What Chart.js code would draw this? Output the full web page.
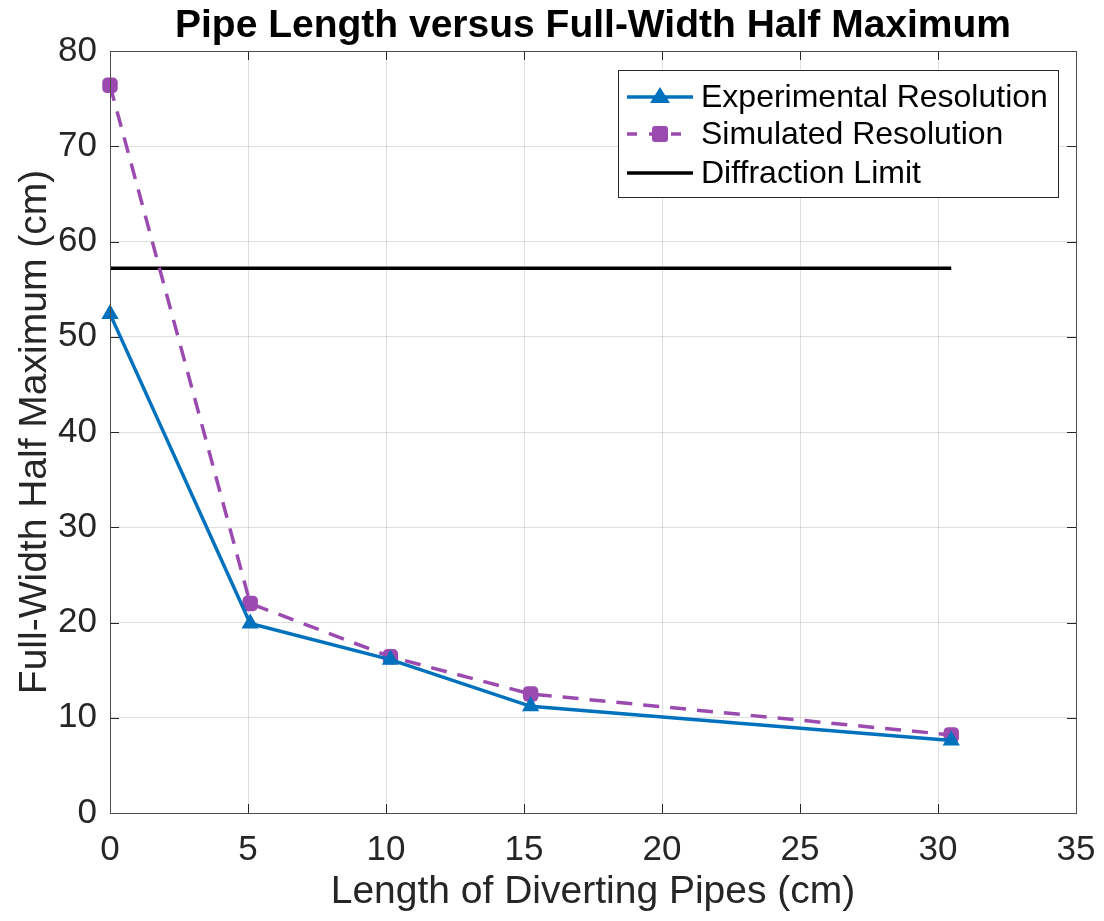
<!DOCTYPE html>
<html><head><meta charset="utf-8">
<script src="https://cdn.jsdelivr.net/npm/chart.js@4/dist/chart.umd.min.js"></script>
<style>html,body{margin:0;padding:0;background:#fff}#wrap{width:1104px;height:921px}</style>
</head><body><div id="wrap"><canvas id="c" width="1104" height="921"></canvas></div>
<script>
const pipeLengths = [0, 5.08, 10.16, 15.24, 30.48];
const experimental = [52.4, 19.9, 16.1, 11.2, 7.6];
const simulated = [76.4, 22.0, 16.4, 12.5, 8.2];
const diffractionLimit = 57.2;
const diffractionX = [0, 30.48];
const xTicks = [0, 5, 10, 15, 20, 25, 30, 35];
const yTicks = [0, 10, 20, 30, 40, 50, 60, 70, 80];
const titleText = 'Pipe Length versus Full-Width Half Maximum';
const xTitle = 'Length of Diverting Pipes (cm)';
const yTitle = 'Full-Width Half Maximum (cm)';
const seriesNames = ['Experimental Resolution', 'Simulated Resolution', 'Diffraction Limit'];

const BLUE = '#0072BD', PURPLE = '#9B4BB0', BLACK = '#000000';
const FONT = '"Liberation Sans", Arial, Helvetica, sans-serif';

const pts = (xs, ys) => xs.map((x, i) => ({x, y: ys[i]}));

const overlay = {
  id: 'overlay',
  afterDraw(chart) {
    const ctx = chart.ctx, a = chart.chartArea;
    const xs = chart.scales.x, ys = chart.scales.y;
    ctx.save();
    ctx.strokeStyle = '#262626'; ctx.lineWidth = 1;
    const tl = 9;
    ctx.beginPath();
    xTicks.forEach(v => { const px = Math.round(xs.getPixelForValue(v)) + 0.5;
      ctx.moveTo(px, a.bottom); ctx.lineTo(px, a.bottom - tl);
      ctx.moveTo(px, a.top); ctx.lineTo(px, a.top + tl); });
    yTicks.forEach(v => { const py = Math.round(ys.getPixelForValue(v)) + 0.5;
      ctx.moveTo(a.left, py); ctx.lineTo(a.left + tl, py);
      ctx.moveTo(a.right, py); ctx.lineTo(a.right - tl, py); });
    ctx.stroke();
    ctx.strokeStyle = '#4d4d4d';
    ctx.strokeRect(Math.round(a.left) + 0.5, Math.round(a.top) + 0.5, Math.round(a.right - a.left), Math.round(a.bottom - a.top));
    // title
    ctx.fillStyle = '#000';
    ctx.font = 'bold 39px ' + FONT;
    ctx.textAlign = 'center'; ctx.textBaseline = 'middle';
    ctx.fillText(titleText, (a.left + a.right) / 2, 26);
    // axis titles
    ctx.fillStyle = '#262626';
    ctx.font = '39px ' + FONT;
    ctx.fillText(xTitle, (a.left + a.right) / 2, 892);
    ctx.save();
    ctx.translate(35, (a.top + a.bottom) / 2);
    ctx.rotate(-Math.PI / 2);
    ctx.fillText(yTitle, 0, 0);
    ctx.restore();
    // legend
    const lx = 618, ly = 70, lw = 440, lh = 127;
    ctx.fillStyle = '#fff';
    ctx.fillRect(lx, ly, lw, lh);
    ctx.strokeStyle = '#262626'; ctx.lineWidth = 1;
    ctx.strokeRect(lx + 0.5, ly + 0.5, lw, lh);
    const rows = [97, 134, 173];
    const colors = [BLUE, PURPLE, BLACK];
    ctx.font = '32px ' + FONT;
    ctx.textAlign = 'left';
    rows.forEach((ry, i) => {
      ctx.strokeStyle = colors[i];
      ctx.lineWidth = 3.5;
      ctx.setLineDash(i === 1 ? [10, 12] : []);
      ctx.beginPath(); ctx.moveTo(627, ry); ctx.lineTo(693, ry); ctx.stroke();
      ctx.setLineDash([]);
      ctx.fillStyle = colors[i];
      if (i === 0) {
        ctx.beginPath(); ctx.moveTo(660, ry - 10); ctx.lineTo(670, ry + 6); ctx.lineTo(650, ry + 6); ctx.closePath(); ctx.fill();
      } else if (i === 1) {
        ctx.beginPath(); ctx.roundRect(652, ry - 8, 16, 16, 3); ctx.fill();
      }
      ctx.fillStyle = '#000';
      ctx.textBaseline = 'middle';
      ctx.fillText(seriesNames[i], 701, ry + 1);
    });
    ctx.restore();
  }
};

new Chart(document.getElementById('c'), {
  type: 'scatter',
  data: {
    datasets: [
      { label: seriesNames[2], data: pts(diffractionX, [diffractionLimit, diffractionLimit]), showLine: true,
        borderColor: BLACK, borderWidth: 3.5, pointRadius: 0, order: 3, clip: false },
      { label: seriesNames[1], data: pts(pipeLengths, simulated), showLine: true,
        borderColor: PURPLE, borderWidth: 3.5, borderDash: [16, 11], pointStyle: 'rectRounded',
        pointRadius: 9, pointBackgroundColor: PURPLE, pointBorderColor: PURPLE, pointBorderWidth: 0, order: 2, clip: false },
      { label: seriesNames[0], data: pts(pipeLengths, experimental), showLine: true,
        borderColor: BLUE, borderWidth: 3.5, pointStyle: 'triangle',
        pointRadius: 10, pointBackgroundColor: BLUE, pointBorderColor: BLUE, pointBorderWidth: 0, order: 1, clip: false }
    ]
  },
  options: {
    responsive: false, animation: false, devicePixelRatio: 1,
    layout: { padding: { top: 51, right: 28, left: 0, bottom: 0 } },
    plugins: { legend: { display: false }, title: { display: false }, tooltip: { enabled: false } },
    scales: {
      x: { type: 'linear', min: 0, max: 35,
        afterFit(s) { s.height = 108; s.paddingLeft = 0; s.paddingRight = 0; },
        afterBuildTicks(s) { s.ticks = xTicks.map(v => ({value: v})); },
        grid: { color: 'rgba(38,38,38,0.15)', lineWidth: 1, drawTicks: false },
        border: { display: false },
        ticks: { color: '#262626', font: { family: FONT, size: 35 }, padding: 16, maxRotation: 0, autoSkip: false } },
      y: { type: 'linear', min: 0, max: 80,
        afterFit(s) { s.width = 110; s.paddingTop = 0; s.paddingBottom = 0; },
        afterBuildTicks(s) { s.ticks = yTicks.map(v => ({value: v})); },
        grid: { color: 'rgba(38,38,38,0.15)', lineWidth: 1, drawTicks: false },
        border: { display: false },
        ticks: { color: '#262626', font: { family: FONT, size: 35 }, padding: 13, autoSkip: false } }
    }
  },
  plugins: [overlay]
});
</script></body></html>
